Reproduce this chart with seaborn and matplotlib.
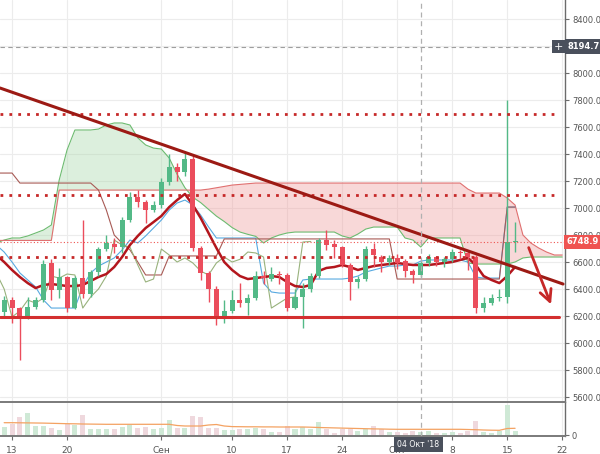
import matplotlib
matplotlib.use("Agg")
import matplotlib.pyplot as plt
import matplotlib.transforms as mtransforms
import numpy as np
import pandas as pd
import seaborn as sns

# ---------------- data (day offsets relative to 13 Aug 2018) ----------------
candle_day = list(range(-1, 65))
opens = [6230, 6318, 6259, 6200, 6267, 6318, 6593, 6393, 6489, 6259, 6481, 6363, 6526, 6696, 6733, 6711,
         6911, 7081, 7044, 6985, 7022, 7193, 7304, 7267, 7363, 6704, 6519, 6400, 6193, 6237, 6318, 6296,
         6333, 6496, 6474, 6511, 6504, 6259, 6341, 6400, 6496, 6763, 6733, 6711, 6578, 6452, 6474, 6696,
         6637, 6600, 6630, 6607, 6533, 6504, 6593, 6637, 6600, 6620, 6674, 6667, 6637, 6259, 6296, 6333,
         6341, 6748]
highs = [6345, 6340, 6270, 6340, 6340, 6615, 6620, 6555, 6500, 6500, 6911, 6540, 6710, 6800, 6780, 6930,
         7118, 7133, 7060, 7050, 7220, 7400, 7330, 7407, 7400, 6720, 6530, 6420, 6318, 6393, 6444, 6360,
         6530, 6530, 6560, 6530, 6520, 6400, 6444, 6520, 6780, 6837, 6760, 6720, 6590, 6500, 6720, 6741,
         6650, 6650, 6660, 6620, 6545, 6610, 6660, 6645, 6640, 6700, 6690, 6680, 6650, 6340, 6360, 6400,
         7800, 6896]
lows = [6200, 6148, 5874, 6180, 6250, 6305, 6318, 6333, 6230, 6250, 6333, 6340, 6500, 6680, 6667, 6667,
        6900, 7007, 6889, 6970, 7000, 7170, 7200, 7240, 6680, 6467, 6304, 6133, 6148, 6220, 6267, 6207,
        6320, 6440, 6460, 6440, 6240, 6250, 6111, 6380, 6480, 6689, 6630, 6560, 6318, 6407, 6460, 6560,
        6526, 6580, 6550, 6489, 6444, 6490, 6570, 6570, 6560, 6600, 6620, 6540, 6220, 6230, 6280, 6310,
        6296, 6674]
closes = [6318, 6259, 6193, 6267, 6318, 6585, 6393, 6489, 6259, 6481, 6363, 6526, 6696, 6741, 6711, 6911,
          7081, 7044, 6985, 7022, 7193, 7304, 7267, 7363, 6704, 6519, 6400, 6193, 6237, 6318, 6296, 6333,
          6496, 6481, 6511, 6504, 6259, 6341, 6400, 6496, 6763, 6726, 6711, 6578, 6452, 6474, 6696, 6652,
          6600, 6630, 6593, 6533, 6504, 6593, 6637, 6600, 6620, 6674, 6667, 6637, 6259, 6296, 6333, 6341,
          6748, 6752]
volumes = [9, 12, 19, 23, 10, 10, 8, 6, 12, 11, 21, 7, 7, 7, 7, 9, 11, 8, 9, 7, 8, 16, 8, 8, 20, 19,
           8, 8, 6, 6, 7, 7, 8, 7, 4, 4, 10, 7,
           9, 7, 14, 7, 3, 7, 7, 5, 7, 10, 7, 4, 4, 3, 5, 4, 5, 3, 3, 4, 3, 5, 15, 4, 3, 5, 31, 5]
vol_ma = [13.3, 13.3, 13.2, 13.1, 13.0, 12.9, 12.7, 12.5, 12.3, 12.2, 12.0, 11.9, 11.8, 11.7,
          11.7, 11.7, 11.7, 11.7, 11.7, 11.7, 11.7, 11.7,
          10.5, 10.0, 10.0, 10.0, 11.0, 11.5, 10.0, 9.4,
          9.3, 9.2, 9.2, 9.1, 9.1, 9.0, 9.0, 9.0, 9.0,
          8.8, 8.5, 8.3, 8.1, 7.9, 7.7, 7.5, 7.3, 7.1, 7.0, 6.8,
          6.7, 6.7, 6.7, 6.7, 6.7, 6.7, 6.7, 6.7, 6.7,
          6.5, 6.3, 6.0, 5.8, 5.7, 7.5, 7.7]

line_day = list(range(-2, 65))
ma_line = [6652, 6600, 6541, 6489, 6444, 6407, 6430, 6437, 6430, 6422, 6422, 6430, 6459, 6489, 6511, 6563,
           6637, 6726, 6793, 6852, 6896, 6941, 7007, 7059, 7104, 7022, 6926, 6815, 6704, 6600, 6541, 6496,
           6474, 6481, 6489, 6496, 6489, 6452, 6422, 6415, 6430, 6533, 6556, 6563, 6578, 6563, 6541, 6556,
           6570, 6578, 6585, 6593, 6585, 6578, 6578, 6578, 6585, 6593, 6600, 6615, 6630, 6578, 6496, 6467,
           6444, 6496, 6563]
tenkan = [6726, 6674, 6600, 6519, 6467, 6415, 6319, 6259, 6259, 6259, 6259, 6420, 6519, 6570, 6600, 6630,
          6689, 6763, 6741, 6793, 6852, 6911, 6985, 7037, 7059, 7022, 6948, 6860, 6778, 6778, 6778, 6778,
          6778, 6778, 6444, 6378, 6370, 6370, 6370, 6467, 6474, 6474, 6474, 6474, 6474, 6481, 6496, 6526,
          6541, 6556, 6570, 6570, 6578, 6578, 6607, 6615, 6615, 6615, 6615, 6615, 6600, 6489, 6481, 6481,
          6481, 7007, 7007]
kijun = [7259, 7259, 7259, 7185, 7185, 7185, 7185, 7185, 7185, 7185, 7185, 7185, 7185, 7133, 6985, 6800,
         6740, 6690, 6600, 6504, 6504, 6504, 6645, 6645, 6645, 6645, 6645, 6645, 6645, 6771, 6771, 6771,
         6771, 6771, 6771, 6771, 6771, 6771, 6771, 6771, 6771, 6771, 6771, 6771, 6771, 6771, 6771, 6771,
         6771, 6771, 6771, 6474, 6474, 6474, 6474, 6474, 6474, 6474, 6474, 6474, 6474, 6474, 6474, 6474,
         6474, 7007, 7007]

span_day = list(range(-2, 71))
span_a = [6741, 6763, 6778, 6778, 6793, 6815, 6837, 6874, 7207, 7430, 7578, 7578, 7578, 7585, 7615, 7630,
          7630, 7615, 7520, 7467, 7444, 7437, 7370, 7250, 7150, 7080, 7040, 6990, 6940, 6900, 6855, 6822,
          6805, 6790, 6741, 6778, 6800, 6815, 6822, 6822, 6822, 6822, 6822, 6822, 6793, 6778, 6807, 6844,
          6859, 6859, 6859, 6859, 6778, 6763, 6711, 6778, 6778, 6778, 6778, 6778, 6593, 6585, 6585, 6585,
          6585, 6585, 6600, 6630, 6637, 6637, 6637, 6637, 6637]
span_b = [6760, 6760, 6760, 6760, 6760, 6760, 6760, 6760,
          7133, 7133, 7133, 7133, 7133, 7133, 7133, 7133, 7133, 7133, 7133, 7133, 7133, 7133, 7133, 7133,
          7133, 7133, 7133,
          7140, 7150, 7160, 7170, 7175, 7180,
          7185, 7185, 7185, 7185, 7185, 7185, 7185, 7185, 7185, 7185, 7185, 7185, 7185, 7185, 7185, 7185,
          7185, 7185, 7185, 7185, 7185, 7185, 7185, 7185, 7185, 7185, 7185,
          7140, 7111, 7111, 7111, 7111,
          7074, 7022, 6800, 6741, 6704, 6674, 6652, 6652]
chikou_lag = 26

# drawings on the chart
trend_x = [-1.53, 70.1]
trend_y = [7889, 6437]
dotted_levels = [7700, 7095, 6640]
dotted_end = [69.7, 69.7, 59.2]
support_level = 6190
support_end = 69.6
arrow_start = (65.6, 6726)
arrow_end = (68.7, 6267)
last_price = 6748.9
cross_price = 8194.7
cross_day = 52
cross_label = "04 Окт '18"

xtick_pos = [0, 7, 19, 28, 35, 42, 49, 56, 63, 70]
xtick_lab = ['13', '20', 'Сен', '10', '17', '24', 'Окт', '8', '15', '22']
price_ticks = list(range(5600, 8600, 200))
XLIM = (-1.53, 70.35)
YLIM = (5563, 8541)

# ---------------- style ----------------
sns.set_theme(style="white")
plt.rcParams['font.family'] = ['DejaVu Sans']

GREEN = '#53b987'
RED = '#eb4d5c'
GRID = '#ececec'
AXC = '#6b6b6b'
TXT = '#555555'

fig = plt.figure(figsize=(6, 4.54), dpi=100)
ax = fig.add_axes([0, 1 - 402 / 454, 565 / 600, 402 / 454])
axv = fig.add_axes([0, 18 / 454, 565 / 600, 34 / 454], sharex=ax)

for a in (ax, axv):
    a.set_facecolor('white')
    for s in ('left', 'top'):
        a.spines[s].set_visible(False)
    a.spines['right'].set_color(AXC)
    a.spines['right'].set_linewidth(1.0)

ax.spines['bottom'].set_visible(False)
axv.spines['top'].set_visible(True)
axv.spines['top'].set_color('#7a7a7a')
axv.spines['top'].set_linewidth(1.4)
axv.spines['bottom'].set_color('#7a7a7a')
axv.spines['bottom'].set_linewidth(1.4)

# grid
for p in price_ticks:
    ax.axhline(p, color=GRID, lw=0.8, zorder=0)
for xp in xtick_pos:
    ax.axvline(xp, color=GRID, lw=0.8, zorder=0)
    axv.axvline(xp, color=GRID, lw=0.8, zorder=0)

# ---------------- ichimoku cloud ----------------
sa = np.array(span_a, float)
sb = np.array(span_b, float)
sd = np.array(span_day, float)
ax.fill_between(sd, sa, sb, where=sa >= sb, interpolate=True, color='#a5d6a7', alpha=0.38, lw=0, zorder=1)
ax.fill_between(sd, sa, sb, where=sa < sb, interpolate=True, color='#ef9a9a', alpha=0.38, lw=0, zorder=1)

df_span = pd.DataFrame({'day': span_day, 'a': span_a, 'b': span_b})
sns.lineplot(data=df_span, x='day', y='a', ax=ax, color='#6dbb70', lw=0.8, zorder=2)
sns.lineplot(data=df_span, x='day', y='b', ax=ax, color='#e07070', lw=0.8, zorder=2)

df_lines = pd.DataFrame({'day': line_day, 'ma': ma_line, 'tenkan': tenkan, 'kijun': kijun})
sns.lineplot(data=df_lines, x='day', y='tenkan', ax=ax, color='#57a9e0', lw=0.8, zorder=3)
sns.lineplot(data=df_lines, x='day', y='kijun', ax=ax, color='#a85a55', lw=0.8, zorder=3)

ch_day = [d - chikou_lag for d, c in zip(candle_day, closes) if d - chikou_lag >= -2]
ch_val = [c for d, c in zip(candle_day, closes) if d - chikou_lag >= -2]
sns.lineplot(x=ch_day, y=ch_val, ax=ax, color='#98b27c', lw=0.8, zorder=3)

sns.lineplot(data=df_lines, x='day', y='ma', ax=ax, color='#b3161d', lw=1.8, zorder=4)

# ---------------- candles ----------------
o = np.array(opens, float)
c = np.array(closes, float)
h = np.array(highs, float)
l = np.array(lows, float)
dd = np.array(candle_day, float)
up = c >= o
cols = np.where(up, GREEN, RED)
ax.vlines(dd, l, h, colors=cols, lw=1.0, zorder=5)
body_lo = np.minimum(o, c)
body_h = np.maximum(np.abs(c - o), 7)
ax.bar(dd, body_h, bottom=body_lo, width=0.64, color=cols, lw=0, zorder=6)

# ---------------- drawings ----------------
ax.axhline(last_price, color='#ef5350', lw=0.8, ls=(0, (1, 2)), zorder=6)
for lev, end in zip(dotted_levels, dotted_end):
    ax.plot([XLIM[0], end], [lev, lev], color='#c62828', lw=2.0, ls=(0, (1, 2.2)), zorder=7)
ax.plot([XLIM[0], support_end], [support_level, support_level], color='#d32f2f', lw=2.2, zorder=7)
ax.plot(trend_x, trend_y, color='#9c1a14', lw=2.2, zorder=8, solid_capstyle='round')
ax.annotate('', xy=arrow_end, xytext=arrow_start,
            arrowprops=dict(arrowstyle='->,head_length=0.7,head_width=0.35', color='#c62828', lw=2.0),
            zorder=8)

# crosshair
ax.axhline(cross_price, color='#9e9e9e', lw=0.8, ls=(0, (4, 3)), zorder=9)
ax.axvline(cross_day, color='#b0b0b0', lw=0.9, ls=(0, (4, 3)), zorder=9)
axv.axvline(cross_day, color='#b0b0b0', lw=0.9, ls=(0, (4, 3)), zorder=9)

# ---------------- volume ----------------
vcols = np.where(up, '#cfe9d6', '#efd8dd')
axv.bar(dd, volumes, width=0.64, color=vcols, lw=0, zorder=2)
sns.lineplot(x=candle_day, y=vol_ma, ax=axv, color='#f4a262', lw=0.9, zorder=3)

# ---------------- axes ----------------
ax.set_xlim(*XLIM)
ax.set_ylim(*YLIM)
axv.set_ylim(0, 34)
ax.set_xlabel('')
ax.set_ylabel('')
axv.set_xlabel('')
axv.set_ylabel('')

ax.yaxis.tick_right()
ax.set_yticks(price_ticks)
# the 8200.0 label sits under the crosshair price box, as in the original
ax.set_yticklabels(['' if p == 8200 else f'{p:.1f}' for p in price_ticks])
ax.tick_params(axis='y', which='both', right=True, length=3, width=0.8, color=AXC,
               labelsize=6, labelcolor=TXT, pad=2)
ax.tick_params(axis='x', bottom=False, labelbottom=False)

axv.yaxis.tick_right()
axv.set_yticks([0.7])
axv.set_yticklabels(['0'])
axv.tick_params(axis='y', right=True, length=3, width=0.8, color=AXC, labelsize=6, labelcolor=TXT, pad=2)
axv.set_xticks(xtick_pos)
axv.set_xticklabels(xtick_lab)
axv.tick_params(axis='x', bottom=True, length=3, width=0.8, color=AXC, labelsize=6.5,
                labelcolor=TXT, pad=4)

blend_ax = mtransforms.blended_transform_factory(ax.transAxes, ax.transData)
ax.text(1.003, last_price, f'{last_price:.1f}', transform=blend_ax,
        ha='left', va='center', fontsize=6, color='white', fontweight='bold',
        bbox=dict(boxstyle='square,pad=0.3', fc='#ef5350', ec='none'), clip_on=False, zorder=20)
ax.text(1.0045, cross_price, f'{cross_price:.1f}', transform=blend_ax,
        ha='left', va='center', fontsize=6, color='white', fontweight='bold',
        bbox=dict(boxstyle='square,pad=0.35', fc='#4a505c', ec='none'), clip_on=False, zorder=20)
ax.text(0.988, cross_price, '+', transform=blend_ax,
        ha='center', va='center', fontsize=8, color='white',
        bbox=dict(boxstyle='square,pad=0.15', fc='#4a505c', ec='none'), clip_on=False, zorder=20)
axv.text(cross_day - 0.3, -0.24, cross_label,
         transform=mtransforms.blended_transform_factory(axv.transData, axv.transAxes),
         ha='center', va='center', fontsize=5.6, color='white',
         bbox=dict(boxstyle='square,pad=0.4', fc='#4a505c', ec='none'), clip_on=False, zorder=20)

fig.savefig('out.png', dpi=100)
